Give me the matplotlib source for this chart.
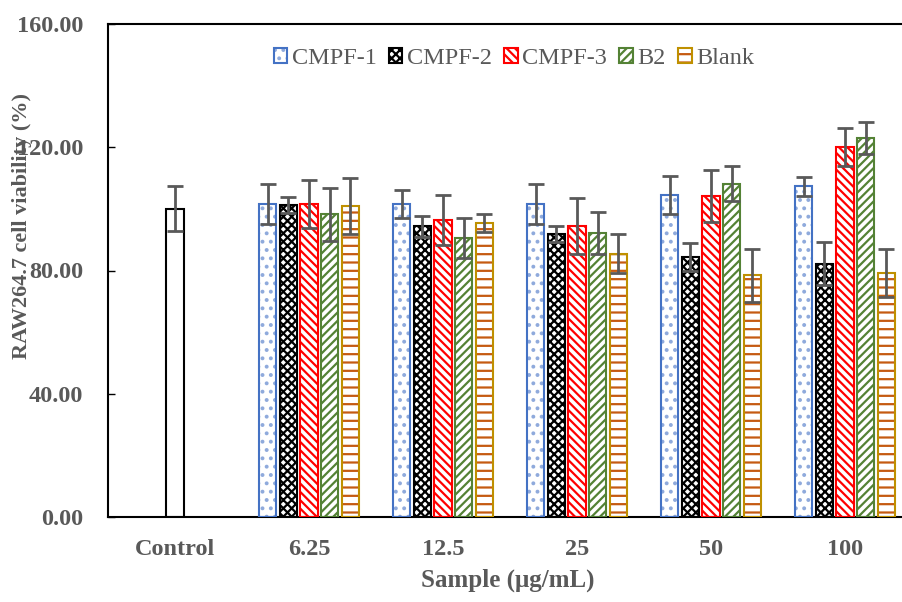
import matplotlib.pyplot as plt
from matplotlib.patches import Patch
import numpy as np

plt.rcParams['font.family'] = ['Liberation Serif', 'DejaVu Serif']
plt.rcParams['hatch.linewidth'] = 1.6

categories = ['Control', '6.25', '12.5', '25', '50', '100']
series = ['CMPF-1', 'CMPF-2', 'CMPF-3', 'B2', 'Blank']

control_mean = 100.0
control_err = 7.3

means = {
    'CMPF-1': [101.6, 101.6, 101.6, 104.5, 107.4],
    'CMPF-2': [101.3, 94.4, 91.9, 84.4, 82.2],
    'CMPF-3': [101.6, 96.4, 94.4, 104.2, 120.2],
    'B2':     [98.3, 90.6, 92.2, 108.1, 122.9],
    'Blank':  [101.0, 95.4, 85.4, 78.5, 79.2],
}
errors = {
    'CMPF-1': [6.6, 4.4, 6.5, 6.3, 3.1],
    'CMPF-2': [2.5, 3.4, 2.6, 4.5, 6.9],
    'CMPF-3': [7.8, 8.0, 9.0, 8.3, 6.2],
    'B2':     [8.6, 6.6, 6.8, 5.7, 5.2],
    'Blank':  [9.0, 3.0, 6.3, 8.6, 7.8],
}

# edge colour, hatch colour, hatch pattern
styles = {
    'CMPF-1': ('#4472C4', '#8FAADC', '..'),
    'CMPF-2': ('#000000', '#000000', 'xxxx'),
    'CMPF-3': ('#FF0000', '#FF0000', '\\\\\\\\'),
    'B2':     ('#548235', '#548235', '////'),
    'Blank':  ('#BF9000', '#C55A11', '--'),
}

gray = '#595959'
fig = plt.figure(figsize=(9.03, 6.02), dpi=100)
ax = fig.add_axes([108 / 903, 1 - 517 / 602, 804 / 903, 493 / 602])

width = 0.127
step = 0.154
x = np.arange(1, len(categories))

ax.bar(0, control_mean, width, color='white', edgecolor='black', linewidth=1.5, zorder=2)
ax.errorbar(0, control_mean, yerr=control_err, fmt='none', ecolor=gray,
            elinewidth=2, capsize=6, capthick=2, zorder=4)

handles = []
for k, name in enumerate(series):
    edge, hcolor, hatch = styles[name]
    pos = x + (k - 2) * step
    ax.bar(pos, means[name], width, color='white', edgecolor=hcolor,
           hatch=hatch, linewidth=0, zorder=2)
    ax.bar(pos, means[name], width, fill=False, edgecolor=edge,
           linewidth=1.5, zorder=3)
    ax.errorbar(pos, means[name], yerr=errors[name], fmt='none', ecolor=gray,
                elinewidth=2, capsize=6, capthick=2, zorder=4)
    handles.append((Patch(facecolor='white', edgecolor=hcolor, hatch=hatch, linewidth=0),
                    Patch(fill=False, edgecolor=edge, linewidth=1.5)))

ax.set_xlim(-0.5, 5.5)
ax.set_ylim(0, 160)
ax.set_yticks([0, 40, 80, 120, 160])
ax.yaxis.set_major_formatter(plt.FormatStrFormatter('%.2f'))
ax.set_xticks(range(len(categories)))
ax.set_xticklabels(categories)
ax.tick_params(axis='x', length=0, pad=16)
ax.tick_params(axis='y', direction='in', length=5, width=1, pad=18)
for lbl in ax.get_xticklabels() + ax.get_yticklabels():
    lbl.set_fontsize(17.5)
    lbl.set_fontweight('bold')
    lbl.set_color(gray)
for s in ax.spines.values():
    s.set_linewidth(1.5)
ax.spines['right'].set_visible(False)

fig.text(508 / 903, 1 - 580 / 602, 'Sample (μg/mL)', fontsize=18, fontweight='bold',
         color=gray, ha='center', va='center')
fig.text(22 / 903, 1 - 226 / 602, 'RAW264.7 cell viability (%)', fontsize=16,
         fontweight='bold', color=gray, ha='center', va='center', rotation=90)

leg = ax.legend(handles, series, loc='upper center', bbox_to_anchor=(0.505, 0.995),
                ncol=5, frameon=False, fontsize=17.5, handlelength=0.55, handleheight=0.55,
                handletextpad=0.2, columnspacing=0.5, labelcolor=gray)

fig.savefig('out.png', dpi=100)
